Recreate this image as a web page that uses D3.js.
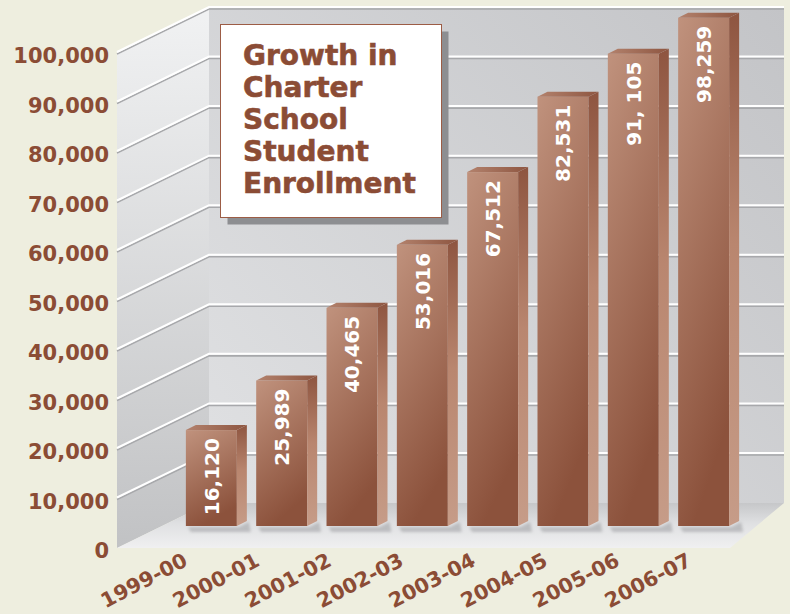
<!DOCTYPE html>
<html>
<head>
<meta charset="utf-8">
<script src="https://cdn.jsdelivr.net/npm/d3@7"></script>
<style>
  html, body { margin: 0; padding: 0; background: #eeeedf; }
  svg { display: block; }
</style>
</head>
<body>
<div id="chart"></div>
<script>
const years = ['1999-00', '2000-01', '2001-02', '2002-03', '2003-04', '2004-05', '2005-06', '2006-07'];
const enrollment = [16120, 25989, 40465, 53016, 67512, 82531, 91105, 98259];
const barLabels = ['16,120', '25,989', '40,465', '53,016', '67,512', '82,531', '91, 105', '98,259'];
const yTicks = [0, 10000, 20000, 30000, 40000, 50000, 60000, 70000, 80000, 90000, 100000];
const titleLines = ['Growth in', 'Charter', 'School', 'Student', 'Enrollment'];

const width = 790, height = 614;
const brown = '#8b4c35';
const font = '"DejaVu Sans", Verdana, sans-serif';

// box geometry (front plane / back plane)
const frontX = 117, backX = 209, backRight = 784, frontRight = 730;
const floorFront = 548, floorBack = 503;
const barBase = 526, barDx = 10, barDy = -5;

const svg = d3.select('#chart')
  .append('svg')
  .attr('width', width)
  .attr('height', height);

const defs = svg.append('defs');

function linGrad(id, x1, y1, x2, y2, stops, user) {
  const g = defs.append('linearGradient').attr('id', id)
    .attr('x1', x1).attr('y1', y1).attr('x2', x2).attr('y2', y2);
  if (user) g.attr('gradientUnits', 'userSpaceOnUse');
  stops.forEach(s => g.append('stop').attr('offset', s[0]).attr('stop-color', s[1]));
}

linGrad('leftWall', 0, 7, 0, 548, [[0, '#f1f2f3'], [1, '#c1c2c4']], true);
linGrad('backWall', 209, 503, 784, 7, [[0, '#e0e1e3'], [1, '#c3c4c7']], true);
linGrad('floor', 0, 503, 0, 548, [[0, '#c6c7c9'], [0.45, '#dfe0e2'], [1, '#f0f0f1']], true);
linGrad('barFront', 0, 0, 0.3, 1, [[0, '#c0927d'], [1, '#8c523c']]);
linGrad('barSide', 0, 0, 0, 1, [[0, '#8e5540'], [0.45, '#b9866f'], [1, '#c69c88']]);
linGrad('barTop', 0, 0, 1, 0, [[0, '#b3826d'], [1, '#8e5641']]);

const blur = defs.append('filter').attr('id', 'blur')
  .attr('x', '-20%').attr('y', '-50%').attr('width', '140%').attr('height', '200%');
blur.append('feGaussianBlur').attr('stdDeviation', 1.5);

// scales
const yFront = d3.scaleLinear().domain([0, 100000]).range([547, 52]);
const yBack = d3.scaleLinear().domain([0, 100000]).range([502.5, 7]);
const yBar = d3.scaleLinear().domain([0, 100000]).range([511, 9]);

const x = d3.scaleBand()
  .domain(years)
  .range([150, 765])
  .paddingInner(0.275)
  .paddingOuter(0.51);

const xLabel = d3.scalePoint()
  .domain(years)
  .range([189, 693]);

// walls and floor
svg.append('rect')
  .attr('x', backX).attr('y', yBack(100000))
  .attr('width', backRight - backX).attr('height', floorBack - yBack(100000))
  .attr('fill', 'url(#backWall)');

svg.append('path')
  .attr('d', `M${frontX},${yFront(100000)}L${backX},${yBack(100000)}L${backX},${floorBack}L${frontX},${floorFront}Z`)
  .attr('fill', 'url(#leftWall)');

svg.append('path')
  .attr('d', `M${frontX},${floorFront}L${frontRight},${floorFront}L${backRight},${floorBack}L${backX},${floorBack}Z`)
  .attr('fill', 'url(#floor)');

// gridlines
const gridTicks = yTicks.filter(d => d > 0);
const grid = svg.append('g');

grid.selectAll('.grid-shadow')
  .data(gridTicks)
  .enter()
  .append('path')
  .attr('d', d => `M${frontX},${yFront(d) + 2}L${backX},${yBack(d) + 2}L${backRight},${yBack(d) + 2}`)
  .attr('fill', 'none')
  .attr('stroke', '#a7a8ab')
  .attr('stroke-width', 1.6);

grid.selectAll('.grid-line')
  .data(gridTicks)
  .enter()
  .append('path')
  .attr('d', d => `M${frontX},${yFront(d)}L${backX},${yBack(d)}L${backRight},${yBack(d)}`)
  .attr('fill', 'none')
  .attr('stroke', '#ffffff')
  .attr('stroke-width', 2);

// title box (sits against the back wall, behind bars)
const box = { x: 220.5, y: 24.5, w: 221, h: 193 };
svg.append('rect')
  .attr('x', box.x + 7).attr('y', box.y + 7)
  .attr('width', box.w).attr('height', box.h)
  .attr('fill', '#8d8e91');
svg.append('rect')
  .attr('x', box.x).attr('y', box.y)
  .attr('width', box.w).attr('height', box.h)
  .attr('fill', '#ffffff')
  .attr('stroke', '#9c5c45')
  .attr('stroke-width', 1);

svg.append('g')
  .selectAll('text')
  .data(titleLines)
  .enter()
  .append('text')
  .attr('x', 243)
  .attr('y', (d, i) => 65 + i * 32)
  .attr('fill', brown)
  .attr('stroke', brown)
  .attr('stroke-width', 0.6)
  .style('font-family', font)
  .style('font-weight', 'bold')
  .style('font-size', '28px')
  .text(d => d);

// bars
const bars = svg.append('g')
  .selectAll('g')
  .data(enrollment)
  .enter()
  .append('g');

const bx = (d, i) => x(years[i]);
const bw = x.bandwidth();

bars.append('path')
  .attr('d', (d, i) => {
    const x0 = bx(d, i) + 2, x1 = x0 + bw + barDx;
    return `M${x0},${barBase + 1}L${x0 + bw},${barBase + 1}L${x1},${barBase + barDy + 1}L${x1 + 2},${barBase + 6}L${x0 + 3},${barBase + 6}Z`;
  })
  .attr('fill', '#9c9da0')
  .attr('opacity', 0.55)
  .attr('filter', 'url(#blur)');

bars.append('rect')
  .attr('x', bx)
  .attr('y', d => yBar(d))
  .attr('width', bw)
  .attr('height', d => barBase - yBar(d))
  .attr('fill', 'url(#barFront)');

bars.append('path')
  .attr('d', (d, i) => {
    const x1 = bx(d, i) + bw, t = yBar(d);
    return `M${x1},${t}L${x1 + barDx},${t + barDy}L${x1 + barDx},${barBase + barDy}L${x1},${barBase}Z`;
  })
  .attr('fill', 'url(#barSide)');

bars.append('path')
  .attr('d', (d, i) => {
    const x0 = bx(d, i), t = yBar(d);
    return `M${x0},${t}L${x0 + barDx},${t + barDy}L${x0 + bw + barDx},${t + barDy}L${x0 + bw},${t}Z`;
  })
  .attr('fill', 'url(#barTop)');

bars.append('text')
  .attr('transform', (d, i) => `translate(${bx(d, i) + bw / 2},${yBar(d) + 8}) rotate(-90)`)
  .attr('dy', '0.36em')
  .attr('text-anchor', 'end')
  .attr('fill', '#ffffff')
  .style('font-family', font)
  .style('font-weight', 'bold')
  .style('font-size', '20px')
  .text((d, i) => barLabels[i]);

// y axis labels
const yAxis = svg.append('g')
  .attr('transform', 'translate(109,4)')
  .call(d3.axisLeft(yFront).tickValues(yTicks).tickFormat(d3.format(',')).tickSize(0).tickPadding(0));
yAxis.select('.domain').remove();
yAxis.selectAll('text')
  .attr('fill', brown)
  .style('font-family', font)
  .style('font-weight', 'bold')
  .style('font-size', '21px');

// category labels
svg.append('g')
  .selectAll('text')
  .data(years)
  .enter()
  .append('text')
  .attr('transform', d => `translate(${xLabel(d)},565) rotate(-27.5)`)
  .attr('text-anchor', 'end')
  .attr('fill', brown)
  .style('font-family', font)
  .style('font-weight', 'bold')
  .style('font-size', '20.5px')
  .text(d => d);
</script>
</body>
</html>
